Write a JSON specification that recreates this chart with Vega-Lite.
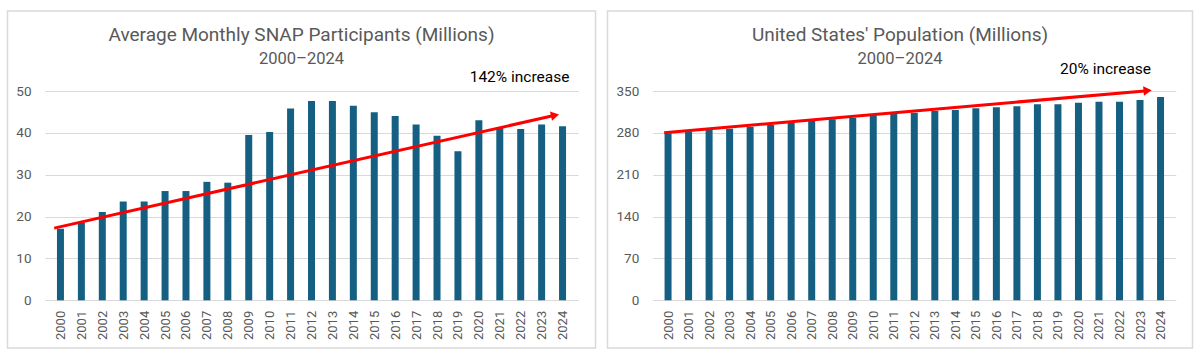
{
  "$schema": "https://vega.github.io/schema/vega-lite/v6.json",
  "background": "white",
  "padding": {"left": 6.5, "top": 10, "right": 0, "bottom": 0},
  "spacing": 10,
  "config": {
    "font": "Roboto",
    "view": {"stroke": "#d9d9d9", "strokeWidth": 1.5},
    "title": {"font": "Roboto", "fontSize": 19, "fontWeight": "normal", "color": "#595959", "subtitleFont": "Roboto", "subtitleFontSize": 16.5, "subtitleColor": "#595959", "subtitlePadding": 6, "anchor": "middle", "frame": "group", "offset": -56},
    "axisX": {"format": "d", "labelAngle": -90, "domain": false, "ticks": false, "tickSize": 0, "grid": false, "offset": -47.7, "labelPadding": 10, "labelFontSize": 13, "labelColor": "#595959", "title": null, "labelOverlap": false, "labelFlush": false},
    "axisY": {"domain": false, "ticks": false, "tickSize": 0, "grid": true, "gridColor": "#d9d9d9", "gridWidth": 1, "labelPadding": 14, "labelFontSize": 13.5, "labelColor": "#595959", "title": null, "labelFlush": false}
  },
  "datasets": {
    "snap": [
      {"year": 2000, "value": 17.1}, {"year": 2001, "value": 18.5}, {"year": 2002, "value": 21.1}, {"year": 2003, "value": 23.6}, {"year": 2004, "value": 23.6},
      {"year": 2005, "value": 26.1}, {"year": 2006, "value": 26.1}, {"year": 2007, "value": 28.3}, {"year": 2008, "value": 28.1}, {"year": 2009, "value": 39.5},
      {"year": 2010, "value": 40.2}, {"year": 2011, "value": 45.8}, {"year": 2012, "value": 47.6}, {"year": 2013, "value": 47.6}, {"year": 2014, "value": 46.5},
      {"year": 2015, "value": 44.9}, {"year": 2016, "value": 44.0}, {"year": 2017, "value": 42.0}, {"year": 2018, "value": 39.3}, {"year": 2019, "value": 35.6},
      {"year": 2020, "value": 43.0}, {"year": 2021, "value": 41.2}, {"year": 2022, "value": 40.9}, {"year": 2023, "value": 42.0}, {"year": 2024, "value": 41.6}
    ],
    "pop": [
      {"year": 2000, "value": 279.5}, {"year": 2001, "value": 282.0}, {"year": 2002, "value": 284.8}, {"year": 2003, "value": 287.0}, {"year": 2004, "value": 290.3},
      {"year": 2005, "value": 293.6}, {"year": 2006, "value": 296.5}, {"year": 2007, "value": 299.8}, {"year": 2008, "value": 302.7}, {"year": 2009, "value": 305.4},
      {"year": 2010, "value": 309.4}, {"year": 2011, "value": 311.5}, {"year": 2012, "value": 313.7}, {"year": 2013, "value": 316.6}, {"year": 2014, "value": 318.2},
      {"year": 2015, "value": 321.1}, {"year": 2016, "value": 322.7}, {"year": 2017, "value": 324.4}, {"year": 2018, "value": 327.8}, {"year": 2019, "value": 327.8},
      {"year": 2020, "value": 330.4}, {"year": 2021, "value": 332.1}, {"year": 2022, "value": 332.1}, {"year": 2023, "value": 335.0}, {"year": 2024, "value": 340.0}
    ],
    "snapTrend": [{"year": 1999.7, "value": 17.25}, {"year": 2023.64, "value": 44.2}],
    "snapArrow": [{"year": 2023.64, "value": 44.2}],
    "popTrend": [{"year": 1999.81, "value": 280.3}, {"year": 2023.37, "value": 350.5}],
    "popArrow": [{"year": 2023.37, "value": 350.5}],
    "snapNote": [{"label": "142% increase", "year": 2024.33, "value": 52.2}],
    "popNote": [{"label": "20% increase", "year": 2023.54, "value": 377.9}]
  },
  "hconcat": [
    {
      "width": 588,
      "height": 337,
      "title": {"text": "Average Monthly SNAP Participants (Millions)", "subtitle": "2000–2024"},
      "encoding": {
        "x": {"field": "year", "type": "quantitative", "scale": {"domain": [1999.5, 2024.5], "range": [37.5, 570.5], "nice": false, "zero": false},
              "axis": {"values": [2000,2001,2002,2003,2004,2005,2006,2007,2008,2009,2010,2011,2012,2013,2014,2015,2016,2017,2018,2019,2020,2021,2022,2023,2024], "labelOverlap": false, "labelFlush": false}},
        "y": {"field": "value", "type": "quantitative", "scale": {"domain": [0, 50], "range": [289.3, 80], "nice": false}, "axis": {"values": [0, 10, 20, 30, 40, 50], "offset": -37.5}}
      },
      "layer": [
        {"data": {"name": "snap"}, "mark": {"type": "bar", "width": 7, "color": "#156082"}},
        {"data": {"name": "snapTrend"}, "mark": {"type": "line", "color": "#ff0000", "strokeWidth": 3}},
        {"data": {"name": "snapArrow"}, "mark": {"type": "point", "shape": "triangle-right", "filled": true, "size": 90, "color": "#ff0000", "opacity": 1, "angle": 347.5}},
        {"data": {"name": "snapNote"}, "mark": {"type": "text", "align": "right", "baseline": "alphabetic", "fontSize": 15.5, "color": "#000000"}, "encoding": {"text": {"field": "label"}}}
      ]
    },
    {
      "width": 585,
      "height": 337,
      "title": {"text": "United States' Population (Millions)", "subtitle": "2000–2024"},
      "encoding": {
        "x": {"field": "year", "type": "quantitative", "scale": {"domain": [1999.5, 2024.5], "range": [45.3, 568.3], "nice": false, "zero": false},
              "axis": {"values": [2000,2001,2002,2003,2004,2005,2006,2007,2008,2009,2010,2011,2012,2013,2014,2015,2016,2017,2018,2019,2020,2021,2022,2023,2024], "labelOverlap": false, "labelFlush": false}},
        "y": {"field": "value", "type": "quantitative", "scale": {"domain": [0, 350], "range": [289.3, 80], "nice": false}, "axis": {"values": [0, 70, 140, 210, 280, 350], "offset": -45.3}}
      },
      "layer": [
        {"data": {"name": "pop"}, "mark": {"type": "bar", "width": 7, "color": "#156082"}},
        {"data": {"name": "popTrend"}, "mark": {"type": "line", "color": "#ff0000", "strokeWidth": 3}},
        {"data": {"name": "popArrow"}, "mark": {"type": "point", "shape": "triangle-right", "filled": true, "size": 90, "color": "#ff0000", "opacity": 1, "angle": 355.1}},
        {"data": {"name": "popNote"}, "mark": {"type": "text", "align": "right", "baseline": "alphabetic", "fontSize": 15.5, "color": "#000000"}, "encoding": {"text": {"field": "label"}}}
      ]
    }
  ]
}
